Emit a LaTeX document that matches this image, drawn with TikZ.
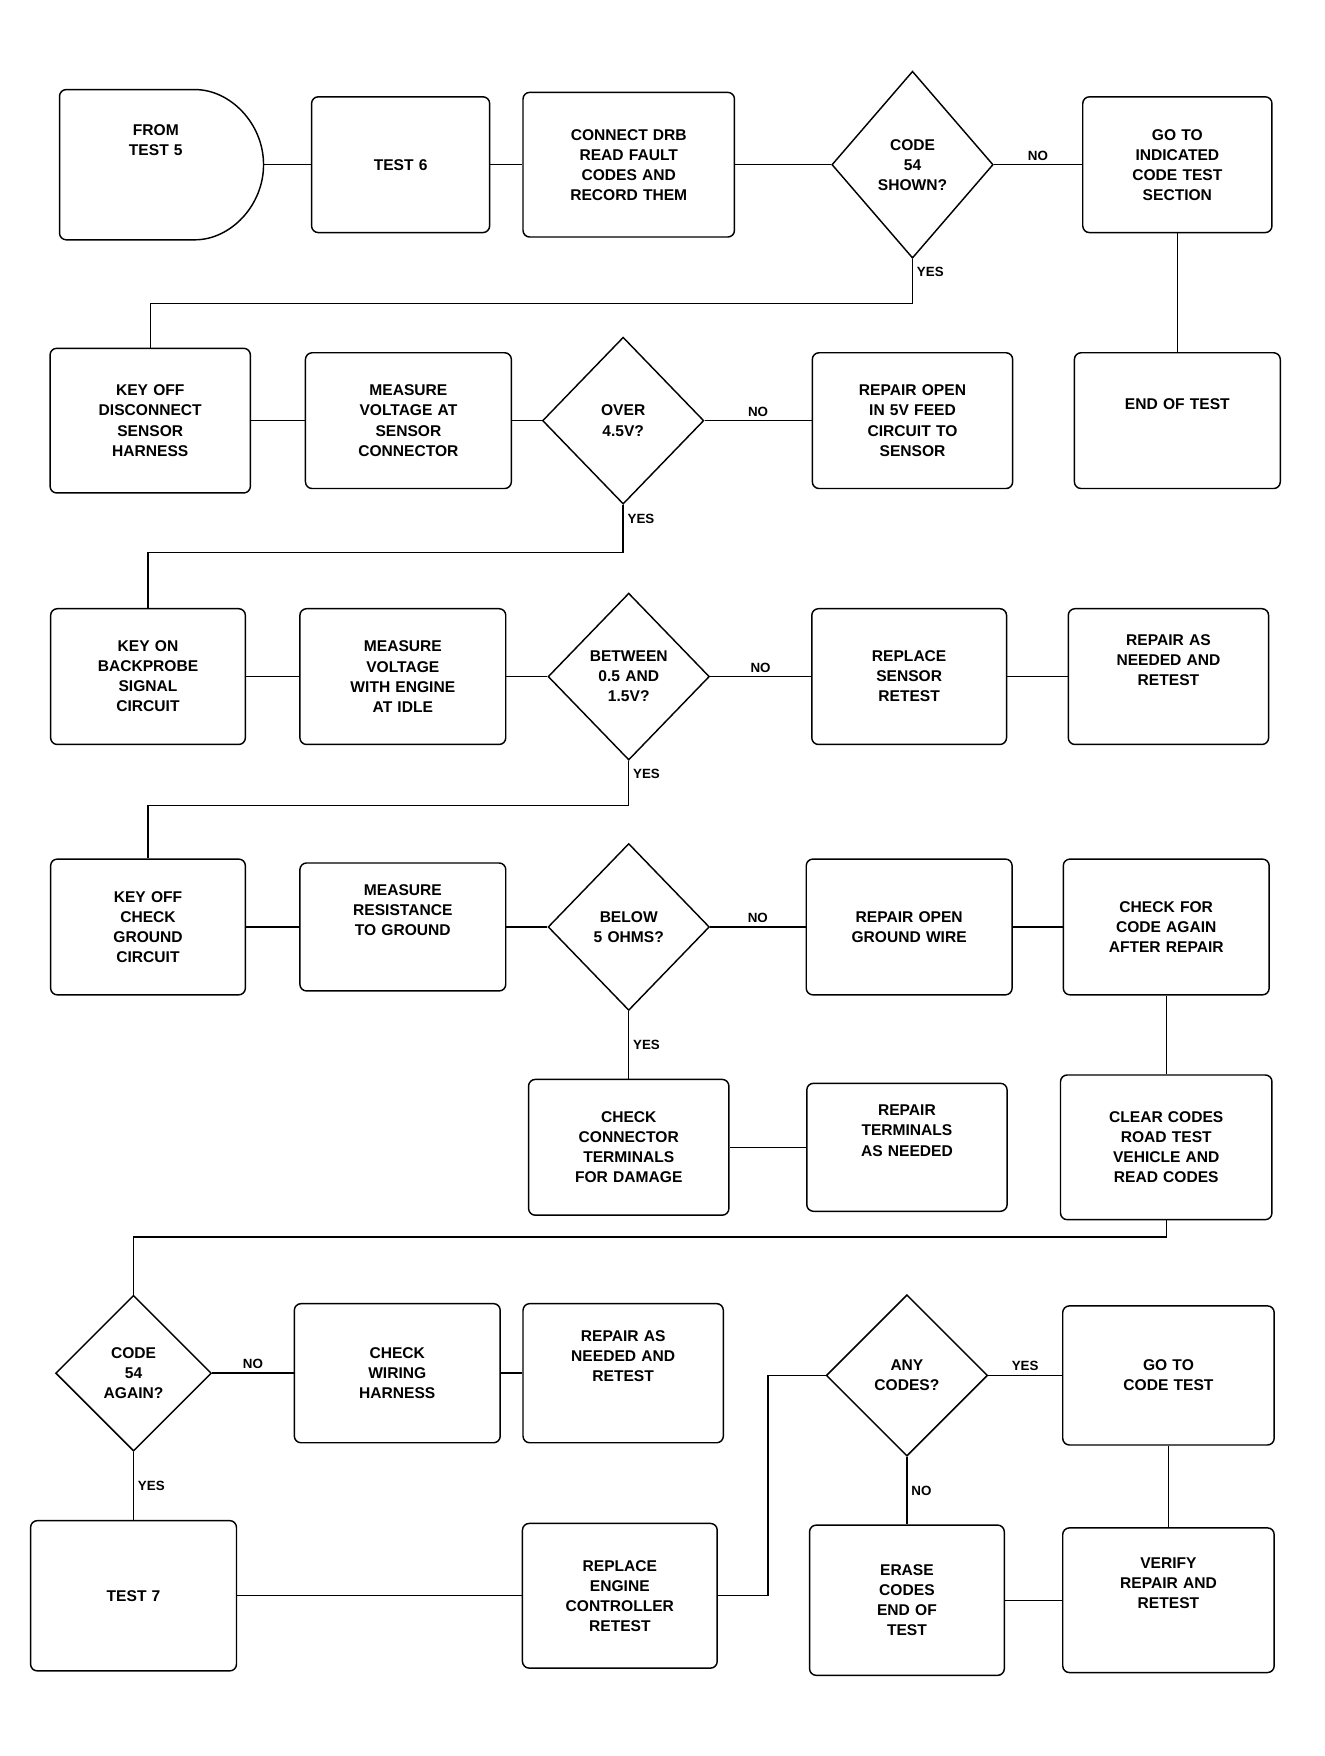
\documentclass[tikz,border=0pt]{standalone}
\usepackage{fontspec}
\setmainfont{Liberation Sans}
\usepackage{tikz}
\usetikzlibrary{positioning,shapes.geometric,shapes.misc}
\tikzset{c-box/.style={rectangle, rounded corners=6pt, minimum width=180pt, minimum height=122pt, text centered, text width=156pt, draw=black, line width=1.3pt, fill=white, font=\fontsize{14}{18}\selectfont\bfseries},
c-start/.style={c-box, rounded rectangle, rounded rectangle left arc=none, minimum width=190pt, minimum height=135pt},
c-test/.style={diamond, minimum width=145pt, minimum height=150pt, inner sep=0pt, text centered, text width=80pt, draw=black, line width=1.3pt, fill=white, font=\fontsize{14}{18}\selectfont\bfseries},
line/.style={line width=1.3pt},
ans/.style={font=\fontsize{12}{14}\selectfont\bfseries}}

\begin{document}
\begin{tikzpicture}[x=1pt, y=-1pt]
\useasboundingbox (0,0) rectangle (1190,1578);
% row 1
\node (a1) [c-start] at (140,148) {FROM\\TEST 5\\[26pt]\mbox{}};
\node (a2) [c-box, minimum width=160pt, text width=130pt] at (360,148) {TEST 6};
\node (a3) [c-box, minimum width=190pt, minimum height=130pt, text width=166pt] at (565,148) {CONNECT DRB\\READ FAULT\\CODES AND\\RECORD THEM};
\node (d1) [c-test, minimum height=168pt] at (820,148) {CODE\\54\\SHOWN?};
\node (a4) [c-box, minimum width=170pt] at (1058,148) {GO TO\\INDICATED\\CODE TEST\\SECTION};
% row 2
\node (b1) [c-box, minimum height=130pt] at (135,378) {KEY OFF\\DISCONNECT\\SENSOR\\HARNESS};
\node (b2) [c-box, minimum width=185pt] at (367,378) {MEASURE\\VOLTAGE AT\\SENSOR\\CONNECTOR};
\node (d2) [c-test] at (560,378) {OVER\\4.5V?};
\node (b4) [c-box] at (820,378) {REPAIR OPEN\\IN 5V FEED\\CIRCUIT TO\\SENSOR};
\node (b5) [c-box, minimum width=185pt] at (1058,378) {END OF TEST\\[12pt]\mbox{}};
% row 3
\node (c1) [c-box, minimum width=175pt] at (133,608) {KEY ON\\BACKPROBE\\SIGNAL\\CIRCUIT};
\node (c2) [c-box, minimum width=185pt] at (362,608) {MEASURE\\VOLTAGE\\WITH ENGINE\\AT IDLE};
\node (d3) [c-test] at (565,608) {BETWEEN\\0.5 AND\\1.5V?};
\node (c4) [c-box, minimum width=175pt] at (817,608) {REPLACE\\SENSOR\\RETEST};
\node (c5) [c-box] at (1050,608) {REPAIR AS\\NEEDED AND\\RETEST\\[12pt]\mbox{}};
% row 4
\node (e1) [c-box, minimum width=175pt] at (133,833) {KEY OFF\\CHECK\\GROUND\\CIRCUIT};
\node (e2) [c-box, minimum width=185pt, minimum height=115pt] at (362,833) {MEASURE\\RESISTANCE\\TO GROUND\\[12pt]\mbox{}};
\node (d4) [c-test] at (565,833) {BELOW\\5 OHMS?};
\node (e4) [c-box, minimum width=185pt] at (817,833) {REPAIR OPEN\\GROUND WIRE};
\node (e5) [c-box, minimum width=185pt] at (1048,833) {CHECK FOR\\CODE AGAIN\\AFTER REPAIR};
% row 5
\node (f1) [c-box] at (565,1031) {CHECK\\CONNECTOR\\TERMINALS\\FOR DAMAGE};
\node (f2) [c-box, minimum height=115pt] at (815,1031) {REPAIR\\TERMINALS\\AS NEEDED\\[12pt]\mbox{}};
\node (f3) [c-box, minimum width=190pt, minimum height=130pt] at (1048,1031) {CLEAR CODES\\ROAD TEST\\VEHICLE AND\\READ CODES};
% row 6
\node (g1) [c-test, minimum width=140pt, minimum height=140pt] at (120,1234) {CODE\\54\\AGAIN?};
\node (g2) [c-box, minimum width=185pt, minimum height=125pt] at (357,1234) {CHECK\\WIRING\\HARNESS};
\node (g3) [c-box, minimum height=125pt] at (560,1234) {REPAIR AS\\NEEDED AND\\RETEST\\[12pt]\mbox{}};
\node (d6) [c-test, minimum height=145pt] at (815,1236) {ANY\\CODES?};
\node (g5) [c-box, minimum width=190pt, minimum height=125pt] at (1050,1236) {GO TO\\CODE TEST};
% row 7
\node (h1) [c-box, minimum width=185pt, minimum height=135pt] at (120,1434) {TEST 7};
\node (h2) [c-box, minimum width=175pt, minimum height=130pt] at (557,1434) {REPLACE\\ENGINE\\CONTROLLER\\RETEST};
\node (h3) [c-box, minimum width=175pt, minimum height=135pt] at (815,1438) {ERASE\\CODES\\END OF\\TEST};
\node (h4) [c-box, minimum width=190pt, minimum height=130pt] at (1050,1438) {VERIFY\\REPAIR AND\\RETEST\\[12pt]\mbox{}};
% connectors
\draw [line] (a1) -- (a2);
\draw [line] (a2) -- (a3);
\draw [line] (a3) -- (d1);
\draw [line] (d1) -- node[ans, anchor=south] {NO} (a4);
\draw [line] (d1.south) -- node[ans, anchor=west, pos=0.3] {YES} ++(0,40) -| (b1.north);
\draw [line] (a4) -- (b5);
\draw [line] (b1) -- (b2);
\draw [line] (b2) -- (d2);
\draw [line] (d2) -- node[ans, anchor=south] {NO} (b4);
\draw [line] (d2.south) -- node[ans, anchor=west, pos=0.3] {YES} ++(0,43) -| (c1.north);
\draw [line] (c1) -- (c2);
\draw [line] (c2) -- (d3);
\draw [line] (d3) -- node[ans, anchor=south] {NO} (c4);
\draw [line] (c4) -- (c5);
\draw [line] (d3.south) -- node[ans, anchor=west, pos=0.3] {YES} ++(0,40) -| (e1.north);
\draw [line] (e1) -- (e2);
\draw [line] (e2) -- (d4);
\draw [line] (d4) -- node[ans, anchor=south] {NO} (e4);
\draw [line] (e4) -- (e5);
\draw [line] (d4) -- node[ans, anchor=west] {YES} (f1);
\draw [line] (f1) -- (f2);
\draw [line] (e5) -- (f3);
\draw [line] (f3.south) -- ++(0,15) -| (g1.north);
\draw [line] (g1) -- node[ans, anchor=south] {NO} (g2);
\draw [line] (g2) -- (g3);
\draw [line] (g1) -- node[ans, anchor=west] {YES} (h1);
\draw [line] (h1) -- (h2);
\draw [line] (h2.east) -- ++(45,0) |- (d6.west);
\draw [line] (d6) -- node[ans, anchor=south] {YES} (g5);
\draw [line] (d6) -- node[ans, anchor=west] {NO} (h3);
\draw [line] (g5) -- (h4);
\draw [line] (h3) -- (h4);
\end{tikzpicture}
\end{document}
